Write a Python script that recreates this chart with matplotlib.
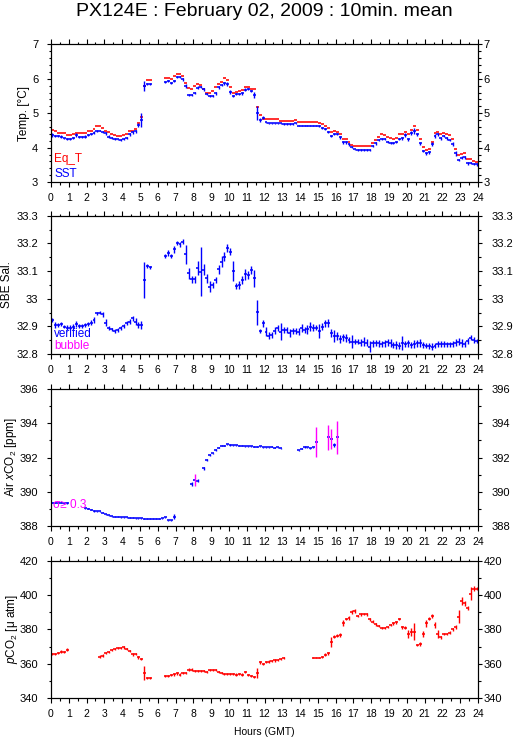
import numpy as np
import matplotlib
matplotlib.use('Agg')
import matplotlib.pyplot as plt
from matplotlib.ticker import MultipleLocator, FuncFormatter

plt.rcParams['font.family'] = ['Liberation Sans', 'DejaVu Sans']
plt.rcParams['mathtext.fontset'] = 'custom'
plt.rcParams['mathtext.rm'] = 'Liberation Sans'
plt.rcParams['mathtext.it'] = 'Liberation Sans:italic'

nan = np.nan
hours = np.arange(144) / 6.0  # start of each 10 min bin

# ---- temperature ----
eq_t = [4.52, 4.47, 4.44, 4.44, 4.42, 4.37, 4.37, 4.39, 4.44, 4.42,
        4.42, 4.42, 4.47, 4.47, 4.54, 4.62, 4.62, 4.58, 4.49, 4.45,
        4.41, 4.38, 4.34, 4.34, 4.37, 4.40, 4.47, 4.49, 4.55, 4.71,
        4.90, 5.79, 5.96, 5.96, nan, nan, nan, nan, 6.02, 6.02,
        5.99, 6.07, 6.13, 6.13, 6.07, 5.89, 5.74, 5.70, 5.80, 5.84,
        5.82, 5.70, 5.58, 5.58, 5.65, 5.77, 5.84, 5.92, 6.02, 5.96,
        5.75, 5.58, 5.63, 5.65, 5.67, 5.75, 5.77, 5.71, 5.71, 5.19,
        4.95, 4.82, 4.82, 4.82, 4.82, 4.82, 4.82, 4.78, 4.78, 4.78,
        4.78, 4.78, 4.80, 4.74, 4.74, 4.74, 4.74, 4.74, 4.74, 4.74,
        4.71, 4.68, 4.64, 4.58, 4.46, 4.49, 4.46, 4.41, 4.24, 4.24,
        4.15, 4.08, 4.05, 4.05, 4.05, 4.05, 4.05, 4.05, 4.13, 4.21,
        4.32, 4.39, 4.37, 4.30, 4.27, 4.24, 4.27, 4.40, 4.40, 4.46,
        4.40, 4.52, 4.63, 4.52, 4.24, 4.01, 3.93, 3.95, 4.15, 4.42,
        4.46, 4.39, 4.44, 4.40, 4.37, 4.24, 3.95, 3.80, 3.82, 3.85,
        3.67, 3.67, 3.62, 3.59]

sst = [4.37, 4.34, 4.34, 4.32, 4.27, 4.25, 4.25, 4.27, 4.37, 4.32,
       4.30, 4.32, 4.37, 4.39, 4.44, 4.49, 4.49, 4.46, 4.42, 4.32,
       4.27, 4.25, 4.24, 4.22, 4.25, 4.27, 4.39, 4.45, 4.47, 4.66,
       4.80, 5.80, 5.85, 5.85, nan, nan, nan, nan, 5.92, 5.94,
       5.89, 5.94, 6.05, 6.05, 5.99, 5.79, 5.53, 5.53, 5.58, 5.74,
       5.77, 5.70, 5.55, 5.50, 5.50, 5.58, 5.75, 5.82, 5.87, 5.85,
       5.63, 5.50, 5.55, 5.55, 5.58, 5.68, 5.70, 5.65, 5.53, 5.00,
       4.80, 4.87, 4.74, 4.71, 4.71, 4.71, 4.71, 4.71, 4.69, 4.69,
       4.69, 4.69, 4.71, 4.64, 4.64, 4.64, 4.64, 4.64, 4.64, 4.64,
       4.63, 4.58, 4.53, 4.46, 4.34, 4.40, 4.40, 4.30, 4.15, 4.15,
       4.10, 4.03, 3.95, 3.93, 3.93, 3.93, 3.93, 3.93, 4.05, 4.13,
       4.22, 4.25, 4.24, 4.17, 4.14, 4.13, 4.17, 4.24, 4.27, 4.37,
       4.24, 4.42, 4.48, 4.39, 4.13, 3.90, 3.83, 3.86, 4.10, 4.34,
       4.39, 4.27, 4.34, 4.27, 4.22, 4.10, 3.83, 3.64, 3.71, 3.72,
       3.54, 3.54, 3.52, 3.51]

sst_err = [0.05, 0.04, 0.03, 0.04, 0.02, 0.02, 0.02, 0.03, 0.05, 0.03,
           0.03, 0.04, 0.04, 0.03, 0.04, 0.03, 0.02, 0.03, 0.04, 0.04,
           0.03, 0.02, 0.02, 0.02, 0.03, 0.03, 0.04, 0.04, 0.05, 0.06,
           0.20, 0.15, 0.03, 0.02, nan, nan, nan, nan, 0.03, 0.04,
           0.03, 0.04, 0.03, 0.03, 0.04, 0.06, 0.04, 0.03, 0.03, 0.04,
           0.03, 0.04, 0.03, 0.02, 0.02, 0.04, 0.05, 0.04, 0.04, 0.05,
           0.06, 0.03, 0.03, 0.03, 0.04, 0.04, 0.03, 0.04, 0.09, 0.20,
           0.06, 0.04, 0.02, 0.02, 0.02, 0.02, 0.02, 0.02, 0.02, 0.02,
           0.02, 0.02, 0.02, 0.02, 0.02, 0.02, 0.02, 0.02, 0.02, 0.02,
           0.03, 0.03, 0.03, 0.03, 0.04, 0.03, 0.03, 0.04, 0.04, 0.03,
           0.04, 0.03, 0.02, 0.02, 0.02, 0.02, 0.02, 0.02, 0.04, 0.04,
           0.03, 0.03, 0.03, 0.03, 0.03, 0.03, 0.03, 0.03, 0.04, 0.05,
           0.04, 0.06, 0.09, 0.05, 0.04, 0.03, 0.03, 0.04, 0.05, 0.05,
           0.04, 0.04, 0.04, 0.04, 0.03, 0.05, 0.06, 0.04, 0.04, 0.05,
           0.04, 0.03, 0.03, 0.03]

# ---- salinity ----
sal = [32.923, 32.905, 32.905, 32.908, 32.899, 32.895, 32.895, 32.899, 32.908, 32.901,
       32.901, 32.905, 32.908, 32.913, 32.923, 32.947, 32.949, 32.943, 32.913, 32.893,
       32.889, 32.883, 32.887, 32.893, 32.901, 32.913, 32.917, 32.929, 32.917, 32.905,
       32.905, 33.067, 33.119, 33.113, nan, nan, nan, nan, 33.155, 33.166,
       33.155, 33.178, 33.202, 33.196, 33.206, 33.160, 33.092, 33.070, 33.070, 33.110,
       33.098, 33.104, 33.073, 33.043, 33.049, 33.067, 33.106, 33.134, 33.152, 33.182,
       33.170, 33.100, 33.046, 33.049, 33.067, 33.089, 33.086, 33.104, 33.073, 32.951,
       32.883, 32.911, 32.881, 32.866, 32.869, 32.884, 32.893, 32.881, 32.887, 32.887,
       32.877, 32.883, 32.884, 32.881, 32.893, 32.887, 32.889, 32.899, 32.895, 32.895,
       32.883, 32.899, 32.911, 32.913, 32.877, 32.865, 32.865, 32.853, 32.860, 32.857,
       32.851, 32.845, 32.845, 32.845, 32.841, 32.845, 32.841, 32.827, 32.839, 32.839,
       32.839, 32.836, 32.839, 32.842, 32.839, 32.833, 32.833, 32.830, 32.839, 32.836,
       32.839, 32.833, 32.836, 32.839, 32.839, 32.833, 32.830, 32.829, 32.827, 32.830,
       32.836, 32.836, 32.836, 32.835, 32.835, 32.836, 32.841, 32.845, 32.839, 32.836,
       32.847, 32.859, 32.851, 32.847]

sal_err = [0.008, 0.010, 0.008, 0.008, 0.005, 0.008, 0.008, 0.010, 0.010, 0.008,
           0.008, 0.008, 0.008, 0.010, 0.010, 0.005, 0.005, 0.008, 0.012, 0.008,
           0.005, 0.008, 0.008, 0.008, 0.008, 0.008, 0.010, 0.008, 0.012, 0.010,
           0.015, 0.065, 0.008, 0.005, nan, nan, nan, nan, 0.008, 0.010,
           0.008, 0.012, 0.008, 0.008, 0.010, 0.035, 0.020, 0.012, 0.012, 0.025,
           0.090, 0.020, 0.015, 0.020, 0.012, 0.010, 0.015, 0.020, 0.015, 0.015,
           0.012, 0.035, 0.012, 0.015, 0.015, 0.020, 0.015, 0.015, 0.030, 0.045,
           0.008, 0.012, 0.015, 0.012, 0.010, 0.012, 0.010, 0.030, 0.010, 0.012,
           0.015, 0.012, 0.010, 0.012, 0.015, 0.012, 0.015, 0.015, 0.012, 0.010,
           0.025, 0.012, 0.012, 0.015, 0.015, 0.020, 0.015, 0.015, 0.012, 0.015,
           0.012, 0.025, 0.010, 0.010, 0.012, 0.015, 0.012, 0.020, 0.012, 0.010,
           0.012, 0.010, 0.012, 0.012, 0.015, 0.012, 0.015, 0.012, 0.025, 0.012,
           0.012, 0.010, 0.015, 0.012, 0.015, 0.012, 0.010, 0.012, 0.012, 0.010,
           0.012, 0.012, 0.010, 0.008, 0.010, 0.010, 0.012, 0.012, 0.015, 0.012,
           0.012, 0.008, 0.010, 0.008]

# ---- air xCO2 ----
air = [389.35, 389.35, 389.35, 389.35, 389.33, 389.35, nan, nan, nan, nan,
       nan, 389.05, 389.00, 388.95, 388.87, 388.85, 388.85, 388.78, 388.68, 388.62,
       388.58, 388.55, 388.55, 388.52, 388.50, 388.50, 388.48, 388.48, 388.45, 388.45,
       388.45, 388.43, 388.43, 388.42, 388.42, 388.43, 388.43, 388.45, 388.50, 388.35,
       388.35, 388.55, nan, nan, nan, nan, nan, 390.45, 390.68, 390.65,
       nan, 391.37, 391.86, 392.15, 392.25, 392.44, 392.58, 392.68, 392.70, 392.77,
       392.73, 392.71, 392.71, 392.70, 392.68, 392.66, 392.65, 392.65, 392.63, 392.63,
       392.65, 392.60, 392.60, 392.60, 392.62, 392.58, 392.60, 392.55, nan, nan,
       nan, nan, nan, 392.42, 392.52, 392.60, 392.60, 392.55, 392.60, 392.90,
       nan, nan, nan, 393.18, 393.08, 392.73, 393.18, nan, nan, nan] + [nan] * 44

air_err = [0.03, 0.03, 0.03, 0.03, 0.03, 0.06, nan, nan, nan, nan,
           nan, 0.03, 0.03, 0.03, 0.04, 0.03, 0.03, 0.04, 0.03, 0.03,
           0.03, 0.03, 0.03, 0.03, 0.03, 0.03, 0.03, 0.03, 0.03, 0.03,
           0.03, 0.03, 0.03, 0.03, 0.03, 0.03, 0.03, 0.03, 0.04, 0.03,
           0.03, 0.15, nan, nan, nan, nan, nan, 0.14, 0.34, 0.08,
           nan, 0.08, 0.06, 0.05, 0.04, 0.04, 0.03, 0.03, 0.03, 0.03,
           0.03, 0.03, 0.03, 0.03, 0.03, 0.03, 0.03, 0.03, 0.03, 0.03,
           0.04, 0.03, 0.03, 0.03, 0.03, 0.03, 0.03, 0.03, nan, nan,
           nan, nan, nan, 0.03, 0.04, 0.05, 0.03, 0.03, 0.03, 0.88,
           nan, nan, nan, 0.72, 0.57, 0.10, 0.95, nan, nan, nan] + [nan] * 44

# ---- pCO2 ----
pco2 = [365.7, 365.7, 366.5, 367.1, 366.7, 368.1, nan, nan, nan, nan,
        nan, nan, nan, nan, nan, nan, 364.2, 364.8, 366.1, 367.1,
        367.9, 368.5, 369.0, 369.4, 369.6, 368.6, 367.7, 365.5, 365.5, 363.8,
        362.8, 354.5, 351.6, 351.6, nan, nan, nan, nan, 353.0, 353.0,
        353.2, 353.9, 354.5, 353.5, 354.5, 354.5, 356.5, 356.5, 355.5, 355.5,
        355.5, 355.5, 355.1, 356.1, 356.1, 356.1, 354.9, 354.5, 354.1, 354.1,
        354.1, 354.1, 353.5, 354.1, 353.5, 354.9, 353.2, 352.6, 352.2, 354.5,
        360.9, 359.9, 360.9, 361.3, 361.5, 361.9, 362.3, 362.8, 363.2, nan,
        nan, nan, nan, nan, nan, nan, nan, nan, 363.6, 363.6,
        363.6, 364.2, 365.2, 366.1, 372.9, 375.8, 376.4, 376.8, 383.9, 386.1,
        386.8, 390.3, 390.7, 387.8, 388.8, 389.0, 388.8, 385.9, 384.5, 383.0,
        382.2, 380.6, 380.6, 381.6, 382.6, 383.5, 384.1, 386.1, 381.2, 381.0,
        377.4, 378.7, 378.7, 371.0, 371.5, 377.4, 383.5, 386.4, 387.8, 382.6,
        377.4, 375.4, 377.4, 377.4, 378.1, 380.1, 381.6, 387.4, 396.5, 395.2,
        392.8, 401.0, 403.9, 403.9]

pco2_err = [0.8, 0.8, 0.6, 0.8, 0.6, 0.8, nan, nan, nan, nan,
            nan, nan, nan, nan, nan, nan, 0.8, 0.8, 0.6, 0.6,
            0.6, 0.6, 0.6, 0.6, 0.8, 0.6, 0.6, 0.8, 0.6, 0.8,
            0.8, 4.2, 0.6, 0.4, nan, nan, nan, nan, 0.6, 0.6,
            0.6, 0.8, 0.8, 0.8, 0.6, 0.6, 0.8, 0.8, 0.6, 0.6,
            0.6, 0.6, 0.6, 0.6, 0.6, 0.6, 0.6, 0.6, 0.6, 0.6,
            0.6, 0.6, 0.8, 0.6, 0.8, 0.6, 0.6, 0.6, 0.6, 3.0,
            0.8, 0.8, 0.6, 0.6, 0.6, 0.6, 0.6, 0.6, 0.6, nan,
            nan, nan, nan, nan, nan, nan, nan, nan, 0.4, 0.4,
            0.4, 0.6, 0.8, 0.8, 2.9, 0.8, 0.8, 1.0, 1.9, 0.8,
            1.0, 1.0, 1.0, 0.8, 0.8, 0.6, 0.8, 0.8, 0.8, 0.8,
            0.6, 0.6, 0.6, 0.6, 0.8, 0.8, 0.8, 0.8, 1.0, 0.8,
            2.2, 2.4, 4.8, 0.8, 1.0, 1.5, 1.9, 1.0, 1.0, 1.7,
            2.1, 0.8, 0.8, 0.8, 0.8, 1.0, 1.2, 3.9, 2.4, 1.2,
            1.2, 4.0, 1.2, 1.0]

hour_ticks = list(range(25))

RED = '#ff0000'
BLUE = '#0000ff'
MAG = '#ff00ff'
LW_H = 1.15  # horizontal (10 min span) strokes
LW_V = 1.0   # vertical (std) strokes

fig = plt.figure(figsize=(5.15, 7.39), dpi=100)
left, width = 51 / 515, 427 / 515
boxes = [(0.7537, 0.1861), (0.5210, 0.1871), (0.2882, 0.1854), (0.0555, 0.1854)]
axes = [fig.add_axes([left, b, width, h]) for b, h in boxes]


def draw(ax, vals, errs, color, vcolor=None, flag=None):
    t = hours + 1 / 12.0
    v = np.array(vals, dtype=float)
    e = np.array(errs, dtype=float)
    ok = ~np.isnan(v)
    ax.errorbar(t[ok], v[ok], xerr=1 / 12.0, fmt='none', ecolor=color,
                elinewidth=LW_H, capsize=0)
    if flag is None:
        ax.errorbar(t[ok], v[ok], yerr=e[ok], fmt='none', ecolor=color,
                    elinewidth=LW_V, capsize=0)
    else:
        hi = ok & (e >= flag)
        lo = ok & (e < flag)
        ax.errorbar(t[lo], v[lo], yerr=e[lo], fmt='none', ecolor=color,
                    elinewidth=LW_V, capsize=0)
        ax.errorbar(t[hi], v[hi], yerr=e[hi], fmt='none', ecolor=vcolor,
                    elinewidth=LW_V, capsize=0)


def fmt_num(x, pos):
    return '%g' % round(x, 3)


def style(ax, ylim, major, minor, right_pad):
    ax.set_xlim(0, 24)
    ax.set_ylim(*ylim)
    ax.set_xticks(hour_ticks)
    ax.set_xticklabels([str(h) for h in hour_ticks])
    ax.xaxis.set_minor_locator(MultipleLocator(0.5))
    ax.yaxis.set_major_locator(MultipleLocator(major))
    ax.yaxis.set_minor_locator(MultipleLocator(minor))
    ax.yaxis.set_major_formatter(FuncFormatter(fmt_num))
    ax.tick_params(axis='x', which='both', direction='out', top=True,
                   bottom=True, labelsize=7.5, pad=4.5, width=0.8)
    ax.tick_params(axis='x', which='major', length=3.6)
    ax.tick_params(axis='x', which='minor', length=1.8)
    ax.tick_params(axis='y', which='both', direction='out', left=True,
                   right=False, labelsize=8, pad=6, width=0.8)
    ax.tick_params(axis='y', which='major', length=3.2)
    ax.tick_params(axis='y', which='minor', length=1.8)
    for s in ax.spines.values():
        s.set_linewidth(0.8)
    ax2 = ax.twinx()
    ax2.set_ylim(*ylim)
    ax2.yaxis.set_major_locator(MultipleLocator(major))
    ax2.yaxis.set_minor_locator(MultipleLocator(minor))
    ax2.yaxis.set_major_formatter(FuncFormatter(fmt_num))
    ax2.tick_params(axis='y', which='both', direction='out', labelsize=8,
                    pad=right_pad, width=0.8)
    ax2.tick_params(axis='y', which='major', length=3.2)
    ax2.tick_params(axis='y', which='minor', length=1.8)
    for s in ax2.spines.values():
        s.set_linewidth(0.8)


ax1, ax2, ax3, ax4 = axes

draw(ax1, eq_t, [0.0] * 144, RED)
draw(ax1, sst, sst_err, BLUE)
style(ax1, (3, 7), 1, 0.2, 0.8)
ax1.text(-0.063, 0.5, 'Temp. [°C]', transform=ax1.transAxes, rotation=90,
         ha='center', va='center', fontsize=8.5)
ax1.text(0.008, 0.145, 'Eq_T', color=RED, transform=ax1.transAxes,
         fontsize=8.5, va='baseline')
ax1.text(0.008, 0.04, 'SST', color=BLUE, transform=ax1.transAxes,
         fontsize=8.5, va='baseline')

draw(ax2, sal, sal_err, BLUE)
style(ax2, (32.8, 33.3), 0.1, 0.05, 6.5)
ax2.text(-0.103, 0.5, 'SBE Sal.', transform=ax2.transAxes, rotation=90,
         ha='center', va='center', fontsize=8.5)
ax2.text(0.008, 0.123, 'verified', color=BLUE, transform=ax2.transAxes,
         fontsize=8.5, va='baseline')
ax2.text(0.008, 0.036, 'bubble', color=MAG, transform=ax2.transAxes,
         fontsize=8.5, va='baseline')

draw(ax3, air, air_err, BLUE, vcolor=MAG, flag=0.3)
style(ax3, (388, 396), 2, 1, 6.5)
ax3.text(-0.094, 0.5, 'Air $\\it{x}$CO$_2$ [ppm]', transform=ax3.transAxes,
         rotation=90, ha='center', va='center', fontsize=8.5)
ax3.text(0.005, 0.131, 'σ≥ 0.3', color=MAG, transform=ax3.transAxes,
         fontsize=8.5, va='baseline')

draw(ax4, pco2, pco2_err, RED)
style(ax4, (340, 420), 20, 10, 0.8)
ax4.text(-0.091, 0.5, '$\\it{p}$CO$_2$ [μ atm]', transform=ax4.transAxes,
         rotation=90, ha='center', va='center', fontsize=8.5)

fig.text(0.5136, 0.9788, 'PX124E : February 02, 2009 : 10min. mean',
         ha='center', va='baseline', fontsize=14)
fig.text(0.5136, 0.0088, 'Hours (GMT)', ha='center', va='center',
         fontsize=7.5)

fig.savefig('out.png', dpi=100)
